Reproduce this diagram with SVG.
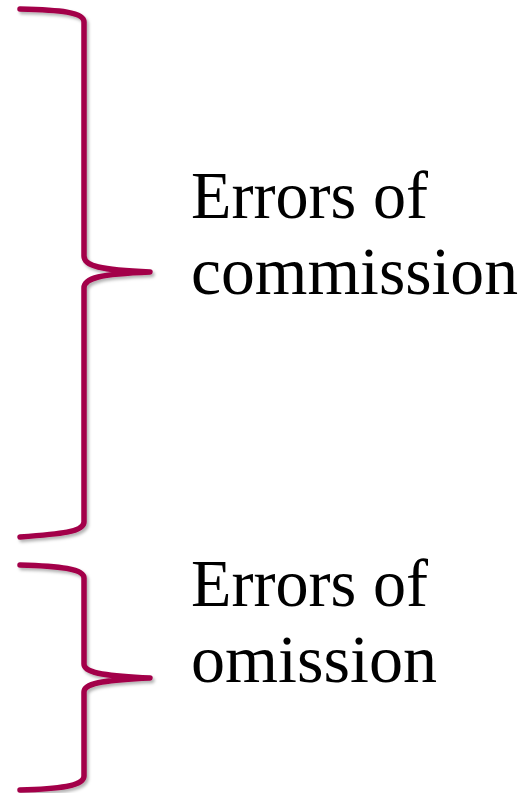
<svg xmlns="http://www.w3.org/2000/svg" width="532" height="793" viewBox="0 0 532 793">
  <defs>
    <filter id="shadow" x="-20%" y="-5%" width="140%" height="110%">
      <feDropShadow dx="2" dy="2.5" stdDeviation="1.5" flood-color="#000" flood-opacity="0.3"/>
    </filter>
    <style>
      .brace { fill: none; stroke: #A3004A; stroke-width: 5.5; stroke-linecap: round; stroke-linejoin: round; filter: url(#shadow); }
      .label { font-family: "Liberation Serif", "Times New Roman", serif; font-size: 68px; fill: #000; }
    </style>
  </defs>
  <rect width="532" height="793" fill="#fff"/>
  <g id="brace-commission">
    <path class="brace" d="M20,9 C60,10 84,12 84,22 L84,256 C84,266 100,270 150,272 C100,274 84,278 84,288 L84,522 C84,532 60,534 20,537"/>
  </g>
  <g id="brace-omission">
    <path class="brace" d="M20,565 C60,566 84,569 84,578 L84,664 C84,672 100,676 150,678 C100,680 84,684 84,692 L84,776 C84,786 60,789 20,790"/>
  </g>
  <g id="label-commission">
    <text class="label" x="191" y="218" textLength="237" lengthAdjust="spacingAndGlyphs">Errors of</text>
    <text class="label" x="191" y="294" textLength="327" lengthAdjust="spacingAndGlyphs">commission</text>
  </g>
  <g id="label-omission">
    <text class="label" x="191" y="606" textLength="237" lengthAdjust="spacingAndGlyphs">Errors of</text>
    <text class="label" x="191" y="682" textLength="246" lengthAdjust="spacingAndGlyphs">omission</text>
  </g>
</svg>
